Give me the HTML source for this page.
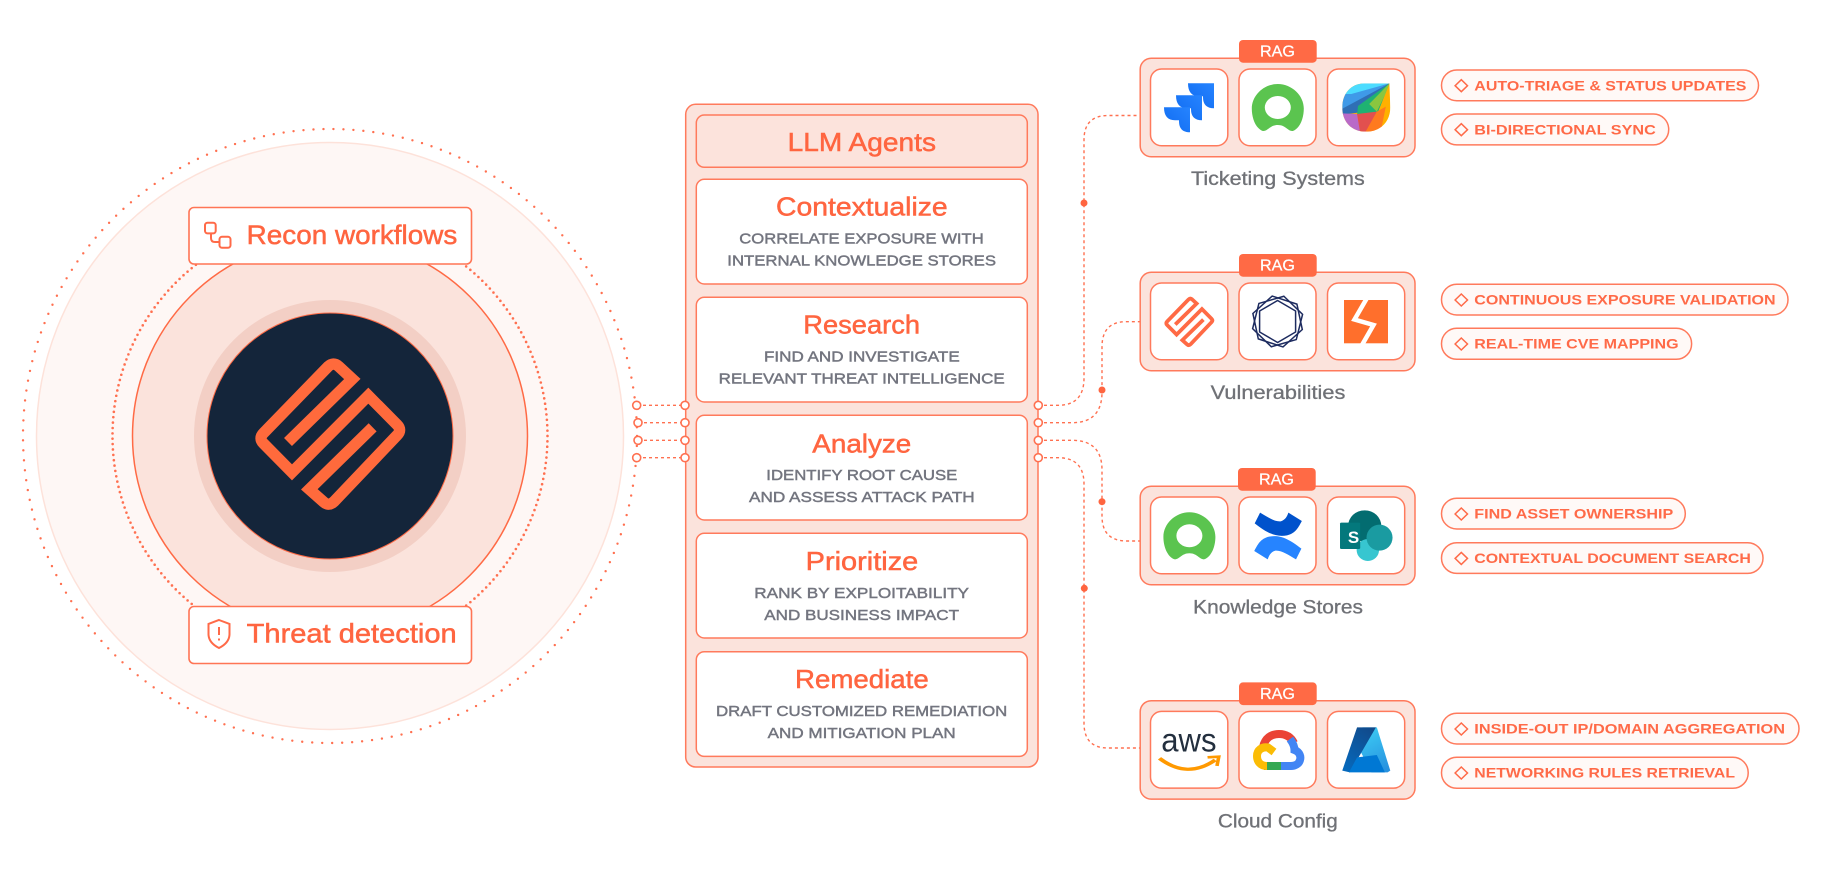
<!DOCTYPE html>
<html>
<head>
<meta charset="utf-8">
<style>
html,body{margin:0;padding:0;background:#fff;width:1824px;height:872px;overflow:hidden}
svg{display:block}
text{font-family:"Liberation Sans",sans-serif}
.t{font-size:25.6px;fill:#ff6540;stroke:#ff6540;stroke-width:.5}
.s{font-size:15.2px;fill:#73757f;stroke:#73757f;stroke-width:.45}
.p{font-size:13.6px;font-weight:bold;fill:#ff6a48}
.l{font-size:19px;fill:#6f7176;stroke:#6f7176;stroke-width:.3}
.r{font-size:15.5px;fill:#fff;stroke:#fff;stroke-width:.25}
.b{font-size:26.5px;fill:#ff6540;stroke:#ff6540;stroke-width:.5}
.box{fill:#fff;stroke:#ff7555;stroke-width:1.6}
.card{fill:#fbe3dc;stroke:#ff7a5c;stroke-width:1.5}
.tile{fill:#fff;stroke:#ff7a5c;stroke-width:1.5}
.rag{fill:#ff6a45}
.pill{fill:#fff9f7;stroke:#ff7a5c;stroke-width:1.5}
.dia{fill:none;stroke:#ff6a48;stroke-width:1.5}
.dash{fill:none;stroke:#ff7050;stroke-width:1.4;stroke-dasharray:3 3}
.n{fill:#fff;stroke:#ff7050;stroke-width:1.6}
.dot{fill:#ff6540}
</style>
</head>
<body>
<svg width="1824" height="872" viewBox="0 0 1824 872" xmlns="http://www.w3.org/2000/svg">
<defs>
<g id="logo"><path d="M174,306 L367,117 L326,79 Q310,65 294,80 L101,279 Q85,295 101,311 L186,397 L415,167 L501,254 Q517,270 501,286 L313,484 Q297,500 281,486 L238,448 L428,262" fill="none" stroke-width="34" stroke-linejoin="miter" stroke-miterlimit="4"/></g>
<path id="ring" fill="#5bc44f" fill-rule="evenodd" d="M-15,23.500 C-22,21 -26,11 -26,1 C-26,-12 -14,-23.500 0,-23.500 C14,-23.500 26,-12 26,1 C26,11 22,21 15,23.500 C10,24 8,17.500 0,17.500 C-8,17.500 -10,24 -15,23.500 Z M-13,0 A13,11.500 0 1 1 13,0 A13,11.500 0 1 1 -13,0 Z"/>
<linearGradient id="jr" x1="1" y1="0" x2="0" y2="1"><stop offset="0" stop-color="#2684ff"/><stop offset="1" stop-color="#0f6af0"/></linearGradient>
<path id="jira" fill="url(#jr)" d="M0,0 H26 V25 Q15,25 15,14 V13 H11 Q0,13 0,0 Z"/>
<clipPath id="fw"><path d="M600,160 H545 C515,160 495,190 495,232 C495,275 515,305 548,305 C580,305 602,275 602,232 Z"/></clipPath>
<linearGradient id="az1" x1="0.8" y1="0" x2="0.2" y2="1"><stop offset="0" stop-color="#114a8b"/><stop offset="1" stop-color="#0669bc"/></linearGradient>
<linearGradient id="az2" x1="0.3" y1="0" x2="0.7" y2="1"><stop offset="0" stop-color="#3ccbf4"/><stop offset="1" stop-color="#2892df"/></linearGradient>
</defs>

<!-- left circles -->
<circle cx="330" cy="436" r="293.500" fill="#fef7f5" stroke="#fde2da" stroke-width="1.5"/>
<circle cx="330" cy="436" r="307" fill="none" stroke="#ff7050" stroke-width="2.400" stroke-linecap="round" stroke-dasharray="0 10"/>
<circle cx="330" cy="436" r="217.500" fill="none" stroke="#ff7050" stroke-width="2.600" stroke-linecap="round" stroke-dasharray="0 5.400"/>
<circle cx="330" cy="436" r="197.500" fill="#fbe3dc" stroke="#ff6a45" stroke-width="1.500"/>
<circle cx="330" cy="436" r="136" fill="#f3cfc5"/>
<circle cx="330" cy="436" r="123" fill="#14253a" stroke="#ff6a45" stroke-width="1"/>
<g transform="translate(230,340) scale(.3333)" stroke="#ff6a3c"><use href="#logo"/></g>

<rect class="box" x="189" y="207.500" width="282.500" height="56.500" rx="5"/>
<g fill="none" stroke="#ff6a48" stroke-width="2">
<rect x="205" y="222.700" width="10.700" height="10.700" rx="2.500"/>
<rect x="219.500" y="236.800" width="11" height="11" rx="2.500"/>
<path d="M211,233.500 V238 Q211,242 215,242 H219.500"/>
</g>
<text class="b" x="246.700" y="244" textLength="210.600" lengthAdjust="spacingAndGlyphs">Recon workflows</text>

<rect class="box" x="189" y="606.500" width="282.500" height="57" rx="5"/>
<g fill="none" stroke="#ff6a48" stroke-width="2">
<path d="M219,620 L229.500,624 V634 C229.500,641 224,645.500 219,648 C214,645.500 208.500,641 208.500,634 V624 Z"/>
<path d="M219,627 V635"/>
<path d="M219,638.500 V640.500"/>
</g>
<text class="b" x="246.700" y="642.700" textLength="210" lengthAdjust="spacingAndGlyphs">Threat detection</text>

<!-- center panel -->
<rect class="card" x="685.700" y="104.300" width="352.300" height="662.700" rx="10"/>
<rect x="696.300" y="115" width="331" height="52.300" rx="8" fill="#fce3dc" stroke="#ff7a5c" stroke-width="1.500"/>
<rect class="tile" x="696.300" y="179.300" width="331" height="104.700" rx="8"/>
<rect class="tile" x="696.300" y="297.300" width="331" height="104.700" rx="8"/>
<rect class="tile" x="696.300" y="415.300" width="331" height="104.700" rx="8"/>
<rect class="tile" x="696.300" y="533.300" width="331" height="104.700" rx="8"/>
<rect class="tile" x="696.300" y="651.700" width="331" height="104.700" rx="8"/>

<text class="t" x="787.700" y="151" textLength="148.300" lengthAdjust="spacingAndGlyphs">LLM Agents</text>
<text class="t" x="776" y="215.700" textLength="171.700" lengthAdjust="spacingAndGlyphs">Contextualize</text>
<text class="t" x="803.300" y="333.700" textLength="116.700" lengthAdjust="spacingAndGlyphs">Research</text>
<text class="t" x="812.300" y="452.300" textLength="99" lengthAdjust="spacingAndGlyphs">Analyze</text>
<text class="t" x="805.700" y="570" textLength="112.600" lengthAdjust="spacingAndGlyphs">Prioritize</text>
<text class="t" x="795" y="688" textLength="133.700" lengthAdjust="spacingAndGlyphs">Remediate</text>

<text class="s" x="739.300" y="243.700" textLength="244.400" lengthAdjust="spacingAndGlyphs">CORRELATE EXPOSURE WITH</text>
<text class="s" x="727.300" y="265.700" textLength="268.700" lengthAdjust="spacingAndGlyphs">INTERNAL KNOWLEDGE STORES</text>
<text class="s" x="764" y="361.700" textLength="195.700" lengthAdjust="spacingAndGlyphs">FIND AND INVESTIGATE</text>
<text class="s" x="718.700" y="383.700" textLength="286" lengthAdjust="spacingAndGlyphs">RELEVANT THREAT INTELLIGENCE</text>
<text class="s" x="766.300" y="480" textLength="191" lengthAdjust="spacingAndGlyphs">IDENTIFY ROOT CAUSE</text>
<text class="s" x="749" y="502" textLength="225.700" lengthAdjust="spacingAndGlyphs">AND ASSESS ATTACK PATH</text>
<text class="s" x="754.300" y="598" textLength="214.700" lengthAdjust="spacingAndGlyphs">RANK BY EXPLOITABILITY</text>
<text class="s" x="764.300" y="620" textLength="194.700" lengthAdjust="spacingAndGlyphs">AND BUSINESS IMPACT</text>
<text class="s" x="716" y="716" textLength="291.300" lengthAdjust="spacingAndGlyphs">DRAFT CUSTOMIZED REMEDIATION</text>
<text class="s" x="767.700" y="738" textLength="188" lengthAdjust="spacingAndGlyphs">AND MITIGATION PLAN</text>

<!-- connectors -->
<path class="dash" d="M637,405.300 H685"/>
<path class="dash" d="M638,422.700 H685"/>
<path class="dash" d="M638,440.300 H685"/>
<path class="dash" d="M637,457.700 H685"/>
<path class="dash" d="M1038,405.300 H1058 Q1084,405.300 1084,378 V140 Q1084,115.500 1108,115.500 H1140"/>
<path class="dash" d="M1038,422.700 H1072 Q1102,422.700 1102,392 V347 Q1102,321.700 1126,321.700 H1140"/>
<path class="dash" d="M1038,440.300 H1072 Q1102,440.300 1102,470 V516 Q1102,541 1127,541 H1140"/>
<path class="dash" d="M1038,457.700 H1058 Q1084,457.700 1084,484 V723 Q1084,748 1108,748 H1140"/>
<circle class="dot" cx="1084" cy="203" r="3.500"/>
<circle class="dot" cx="1102" cy="390" r="3.500"/>
<circle class="dot" cx="1102" cy="501.700" r="3.500"/>
<circle class="dot" cx="1084.300" cy="588.300" r="3.500"/>
<circle class="n" cx="636.700" cy="405.300" r="4"/>
<circle class="n" cx="638" cy="422.700" r="4"/>
<circle class="n" cx="638" cy="440.300" r="4"/>
<circle class="n" cx="636.700" cy="457.700" r="4"/>
<circle class="n" cx="685" cy="405.300" r="4"/>
<circle class="n" cx="685" cy="422.700" r="4"/>
<circle class="n" cx="685" cy="440.300" r="4"/>
<circle class="n" cx="685" cy="457.700" r="4"/>
<circle class="n" cx="1038.300" cy="405.300" r="4"/>
<circle class="n" cx="1038.300" cy="422.700" r="4"/>
<circle class="n" cx="1038.300" cy="440.300" r="4"/>
<circle class="n" cx="1038.300" cy="457.700" r="4"/>

<!-- card 1 -->
<rect class="card" x="1140.200" y="58.300" width="274.800" height="98.400" rx="11"/>
<rect class="rag" x="1239" y="40" width="77.700" height="22.700" rx="4"/>
<text class="r" x="1260" y="56.700" textLength="35" lengthAdjust="spacingAndGlyphs">RAG</text>
<rect class="tile" x="1150.500" y="69" width="77.300" height="76.700" rx="11"/>
<rect class="tile" x="1239" y="69" width="77" height="76.700" rx="11"/>
<rect class="tile" x="1327.500" y="69" width="77.200" height="76.700" rx="11"/>
<use href="#jira" x="1188" y="83.300"/>
<use href="#jira" x="1176" y="95.300"/>
<use href="#jira" x="1164" y="107.300"/>
<use href="#ring" x="1277.800" y="107.500"/>
<g transform="translate(1120,30) scale(.449,.3333)" clip-path="url(#fw)">
<rect x="490" y="155" width="120" height="155" fill="#ffb000"/>
<polygon points="600,160 490,155 490,195 515,195" fill="#4cdcff"/>
<polygon points="600,160 515,192 490,192 490,240 530,230" fill="#3f9ae8"/>
<polygon points="600,160 490,240 490,255 530,248" fill="#2f6fb5"/>
<polygon points="600,160 530,228 528,255 575,245" fill="#1fb272"/>
<polygon points="600,160 555,222 572,245 590,195" fill="#8ac63f"/>
<polygon points="490,250 528,252 535,305 490,310" fill="#b96ac8"/>
<polygon points="528,252 572,245 552,310 535,310" fill="#e2504f"/>
<polygon points="572,245 592,230 580,310 545,310" fill="#ff7a1f"/>
</g>
<text class="l" x="1191" y="185" textLength="173.700" lengthAdjust="spacingAndGlyphs">Ticketing Systems</text>
<rect class="pill" x="1441.500" y="70" width="317" height="30.700" rx="15.300"/>
<path class="dia" d="M1461.300,79.700 L1467.500,85.700 L1461.300,91.700 L1455.100,85.700 Z"/>
<text class="p" x="1474.300" y="90.300" textLength="272.100" lengthAdjust="spacingAndGlyphs">AUTO-TRIAGE &amp; STATUS UPDATES</text>
<rect class="pill" x="1441.500" y="114" width="227.200" height="30.900" rx="15.300"/>
<path class="dia" d="M1461.300,123.700 L1467.500,129.700 L1461.300,135.700 L1455.100,129.700 Z"/>
<text class="p" x="1474.300" y="134.300" textLength="181.500" lengthAdjust="spacingAndGlyphs">BI-DIRECTIONAL SYNC</text>

<!-- card 2 -->
<rect class="card" x="1140.200" y="272.300" width="274.800" height="98.400" rx="11"/>
<rect class="rag" x="1239" y="254" width="77.700" height="22.700" rx="4"/>
<text class="r" x="1260" y="270.700" textLength="35" lengthAdjust="spacingAndGlyphs">RAG</text>
<rect class="tile" x="1150.500" y="283" width="77.300" height="76.700" rx="11"/>
<rect class="tile" x="1239" y="283" width="77" height="76.700" rx="11"/>
<rect class="tile" x="1327.500" y="283" width="77.200" height="76.700" rx="11"/>
<g transform="translate(1156,290.600) scale(.1107)" stroke="#ff6a45"><use href="#logo"/></g>
<g fill="none" stroke="#1d2b5f" stroke-width="1.500" transform="translate(1277.600,321.500)">
<polygon points="0,-26 22.500,-13 22.500,13 0,26 -22.500,13 -22.500,-13" transform="rotate(-12)"/>
<polygon points="0,-26 22.500,-13 22.500,13 0,26 -22.500,13 -22.500,-13" transform="rotate(14)"/>
<polygon points="0,-21 18,-10.500 18,10.500 0,21 -18,10.500 -18,-10.500"/>
</g>
<rect x="1344" y="300" width="44" height="43.300" fill="#ff6f2c"/>
<polyline points="1367,298 1354.500,319.500 1373.500,325 1362,345" fill="none" stroke="#fff" stroke-width="4.500"/>
<text class="l" x="1210.700" y="399" textLength="134.700" lengthAdjust="spacingAndGlyphs">Vulnerabilities</text>
<rect class="pill" x="1441.500" y="284.300" width="346.500" height="30.700" rx="15.300"/>
<path class="dia" d="M1461.300,294 L1467.500,300 L1461.300,306 L1455.100,300 Z"/>
<text class="p" x="1474.300" y="304.600" textLength="301.300" lengthAdjust="spacingAndGlyphs">CONTINUOUS EXPOSURE VALIDATION</text>
<rect class="pill" x="1441.500" y="328.300" width="250.100" height="31" rx="15.300"/>
<path class="dia" d="M1461.300,338 L1467.500,344 L1461.300,350 L1455.100,344 Z"/>
<text class="p" x="1474.300" y="348.600" textLength="204.300" lengthAdjust="spacingAndGlyphs">REAL-TIME CVE MAPPING</text>

<!-- card 3 -->
<rect class="card" x="1140.200" y="486.300" width="274.800" height="98.400" rx="11"/>
<rect class="rag" x="1238" y="468" width="77.700" height="22.700" rx="4"/>
<text class="r" x="1259" y="484.700" textLength="35" lengthAdjust="spacingAndGlyphs">RAG</text>
<rect class="tile" x="1150.500" y="497" width="77.300" height="76.700" rx="11"/>
<rect class="tile" x="1239" y="497" width="77" height="76.700" rx="11"/>
<rect class="tile" x="1327.500" y="497" width="77.200" height="76.700" rx="11"/>
<use href="#ring" x="1189.400" y="535.800"/>
<g transform="translate(1120,460) scale(.449,.3333)">
<path fill="#0052cc" d="M312,158 L300,190 C330,222 350,232 372,226 C392,220 398,200 405,183 L375,158 C372,170 368,180 358,184 C345,186 330,172 312,158 Z"/>
<path fill="#2684ff" d="M392,298 L404,266 C374,234 354,224 332,230 C312,236 306,256 299,273 L329,298 C332,286 336,276 346,272 C359,270 374,284 392,298 Z"/>
<ellipse cx="545" cy="198" rx="37" ry="47" fill="#036c70"/>
<ellipse cx="552" cy="270" rx="25" ry="33" fill="#37c6d0"/>
<ellipse cx="578" cy="233" rx="29" ry="39" fill="#1a9ba1"/>
<rect x="490" y="188" width="45" height="79" rx="3" fill="#03787c"/>
</g>
<text x="1353.500" y="543" font-size="17" font-weight="bold" fill="#fff" text-anchor="middle">S</text>
<text class="l" x="1193.200" y="613.300" textLength="169.800" lengthAdjust="spacingAndGlyphs">Knowledge Stores</text>
<rect class="pill" x="1441.500" y="498.300" width="243.800" height="30.700" rx="15.300"/>
<path class="dia" d="M1461.300,508 L1467.500,514 L1461.300,520 L1455.100,514 Z"/>
<text class="p" x="1474.300" y="518.600" textLength="198.900" lengthAdjust="spacingAndGlyphs">FIND ASSET OWNERSHIP</text>
<rect class="pill" x="1441.500" y="542.700" width="321.500" height="30.700" rx="15.300"/>
<path class="dia" d="M1461.300,552.400 L1467.500,558.400 L1461.300,564.400 L1455.100,558.400 Z"/>
<text class="p" x="1474.300" y="563" textLength="276.600" lengthAdjust="spacingAndGlyphs">CONTEXTUAL DOCUMENT SEARCH</text>

<!-- card 4 -->
<rect class="card" x="1140.200" y="700.700" width="274.800" height="98.400" rx="11"/>
<rect class="rag" x="1239" y="682.400" width="77.700" height="22.700" rx="4"/>
<text class="r" x="1260" y="699.100" textLength="35" lengthAdjust="spacingAndGlyphs">RAG</text>
<rect class="tile" x="1150.500" y="711.400" width="77.300" height="76.700" rx="11"/>
<rect class="tile" x="1239" y="711.400" width="77" height="76.700" rx="11"/>
<rect class="tile" x="1327.500" y="711.400" width="77.200" height="76.700" rx="11"/>
<text x="1161.300" y="751.700" font-size="33" fill="#232f3e" textLength="55.200" lengthAdjust="spacingAndGlyphs">aws</text>
<g transform="translate(1120,680) scale(.449,.3333)" fill="none" stroke="#ff9900">
<path d="M88,235 Q150,298 212,240" stroke-width="10"/>
<path d="M195,232 L220,230 L216,258" stroke-width="8"/>
</g>
<g fill="none" stroke-width="8">
<path stroke="#ea4335" d="M1263,747 C1265,738 1271,734 1279,734 C1286,734 1291,737 1294,743"/>
<path stroke="#4285f4" d="M1290,739 C1293,743 1294.500,746 1294.500,750 C1300,752 1301,757 1300,760 C1299,764 1295,766 1291,766 H1279"/>
<path stroke="#34a853" d="M1281,766 H1264"/>
<path stroke="#fbbc05" d="M1267,766 C1260,766 1257,761 1257,756 C1257,750 1262,746.500 1268,747.500 L1274,752"/>
</g>
<g transform="translate(1120,680) scale(.449,.3333)">
<polygon points="540,142 572,142 602,272 596,277 560,277 530,200" fill="url(#az2)"/>
<polygon points="528,142 570,142 530,235 512,277 495,272" fill="url(#az1)"/>
<polygon points="528,232 572,225 590,277 510,277" fill="#0078d4"/>
</g>
<text class="l" x="1217.900" y="827.700" textLength="119.900" lengthAdjust="spacingAndGlyphs">Cloud Config</text>
<rect class="pill" x="1441.500" y="713.300" width="357.500" height="30.700" rx="15.300"/>
<path class="dia" d="M1461.300,723 L1467.500,729 L1461.300,735 L1455.100,729 Z"/>
<text class="p" x="1474.300" y="733.600" textLength="310.700" lengthAdjust="spacingAndGlyphs">INSIDE-OUT IP/DOMAIN AGGREGATION</text>
<rect class="pill" x="1441.500" y="757.300" width="306.700" height="31" rx="15.300"/>
<path class="dia" d="M1461.300,767 L1467.500,773 L1461.300,779 L1455.100,773 Z"/>
<text class="p" x="1474.300" y="777.600" textLength="260.700" lengthAdjust="spacingAndGlyphs">NETWORKING RULES RETRIEVAL</text>
</svg>
</body>
</html>
